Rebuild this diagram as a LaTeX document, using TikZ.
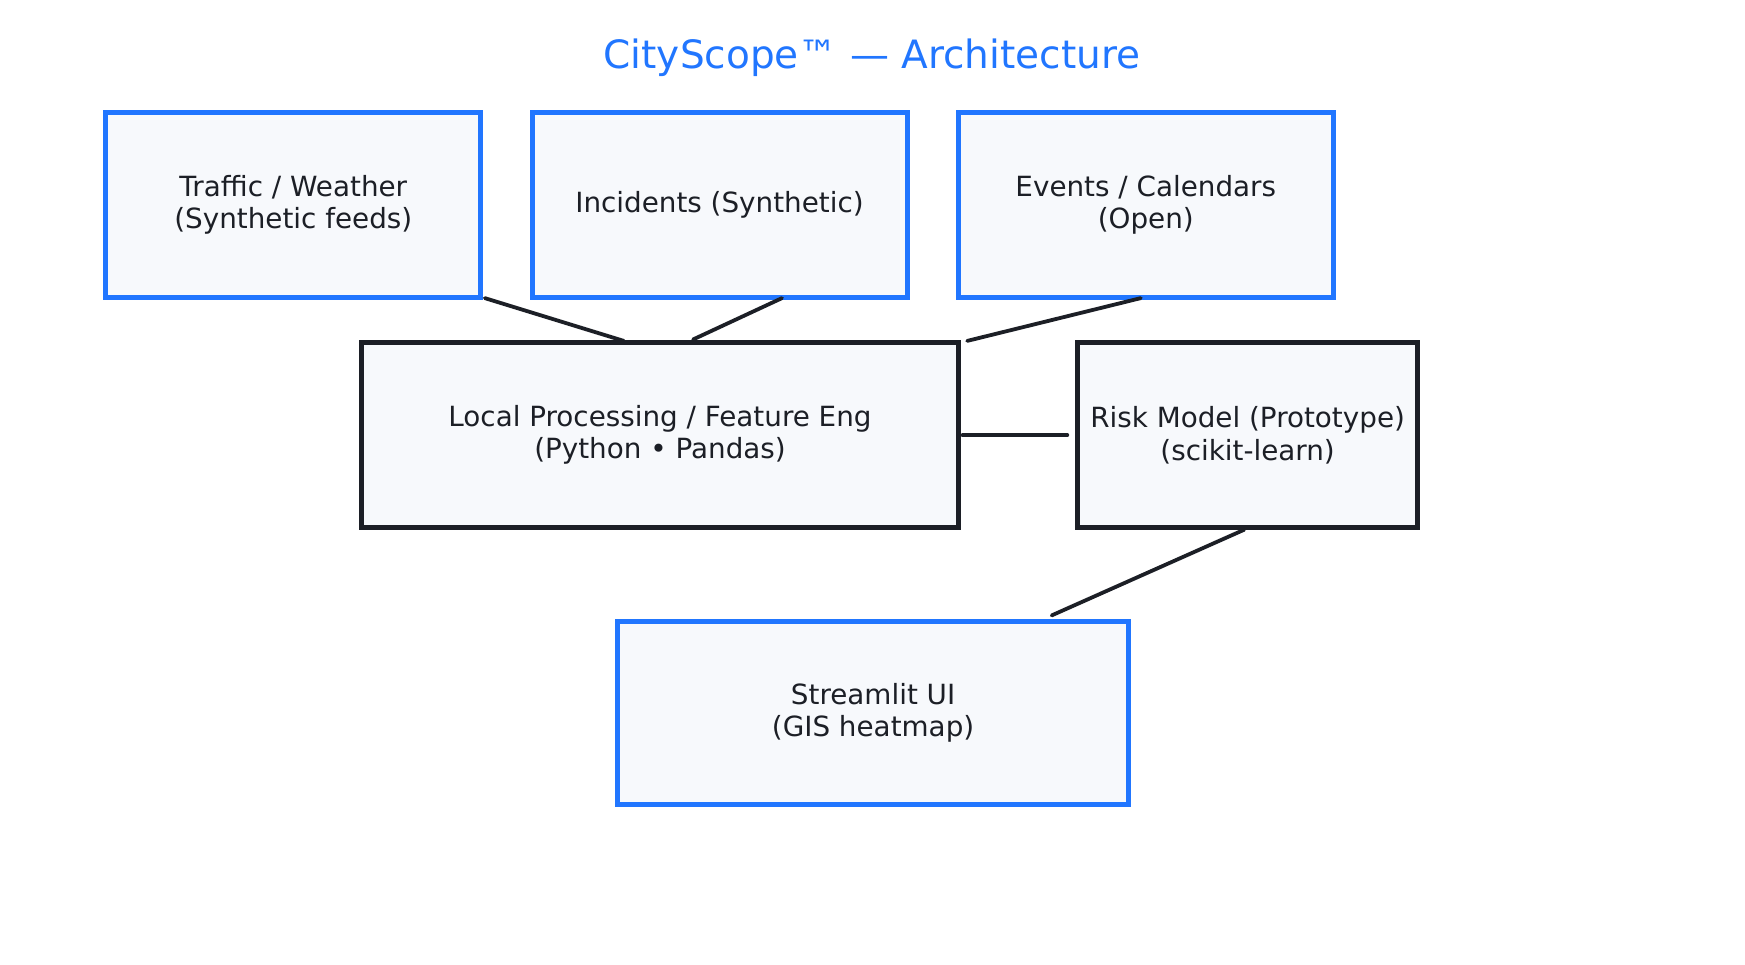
\documentclass[tikz,border=0pt]{standalone}
\usepackage{fontspec}
\setmainfont{DejaVu Sans}
\usetikzlibrary{calc}
\definecolor{accent}{HTML}{2176FF}
\definecolor{ink}{HTML}{1C1F26}
\definecolor{boxfill}{HTML}{F7F9FC}
\begin{document}
\begin{tikzpicture}[x=0.5pt,y=-0.5pt,
  box/.style={draw, line width=2.5pt, fill=boxfill, outer sep=0pt, inner sep=0pt,
    align=center, text=ink, font=\fontsize{13.9}{16.1}\selectfont},
  srcbox/.style={box, draw=accent},
  procbox/.style={box, draw=ink},
  link/.style={draw=ink, line width=1.9pt, line cap=round}]
\useasboundingbox (0,0) rectangle (1745,964);
\node[text=accent, font=\fontsize{19.5}{23}\selectfont] (title) at (872,58) {CityScope™ — Architecture};
\node[srcbox, minimum width=187.5pt, minimum height=92.3pt] (traffic) at (293.3,204.8) {Traffic / Weather\\(Synthetic feeds)};
\node[srcbox, minimum width=187.5pt, minimum height=92.3pt] (incidents) at (719.5,204.8) {Incidents (Synthetic)};
\node[srcbox, minimum width=187.5pt, minimum height=92.3pt] (events) at (1145.8,204.8) {Events / Calendars\\(Open)};
\node[procbox, minimum width=298.2pt, minimum height=92.3pt] (local) at (660,435.2) {Local Processing / Feature Eng\\(Python • Pandas)};
\node[procbox, minimum width=170.3pt, minimum height=92.3pt] (risk) at (1247.6,435.2) {Risk Model (Prototype)\\(scikit-learn)};
\node[srcbox, minimum width=255.4pt, minimum height=91.8pt] (streamlit) at (873.1,712.8) {Streamlit UI\\(GIS heatmap)};
\coordinate (a1) at ($(traffic.south east)+(4,1)$);
\coordinate (b1) at ($(local.north west)+(262,-2)$);
\coordinate (a2) at ($(incidents.south)+(62.5,1)$);
\coordinate (b2) at ($(local.north)+(33,-3.4)$);
\coordinate (a3) at ($(events.south)+(-5,1)$);
\coordinate (b3) at ($(local.north east)+(9,-2)$);
\coordinate (a4) at ($(local.east)+(4.4,0)$);
\coordinate (b4) at ($(risk.west)+(-10,0)$);
\coordinate (a5) at ($(risk.south)+(-3.4,2.2)$);
\coordinate (b5) at ($(streamlit.north)+(178.6,-5.6)$);
\draw[link] (a1) -- (b1);
\draw[link] (a2) -- (b2);
\draw[link] (a3) -- (b3);
\draw[link] (a4) -- (b4);
\draw[link] (a5) -- (b5);
\end{tikzpicture}
\end{document}
